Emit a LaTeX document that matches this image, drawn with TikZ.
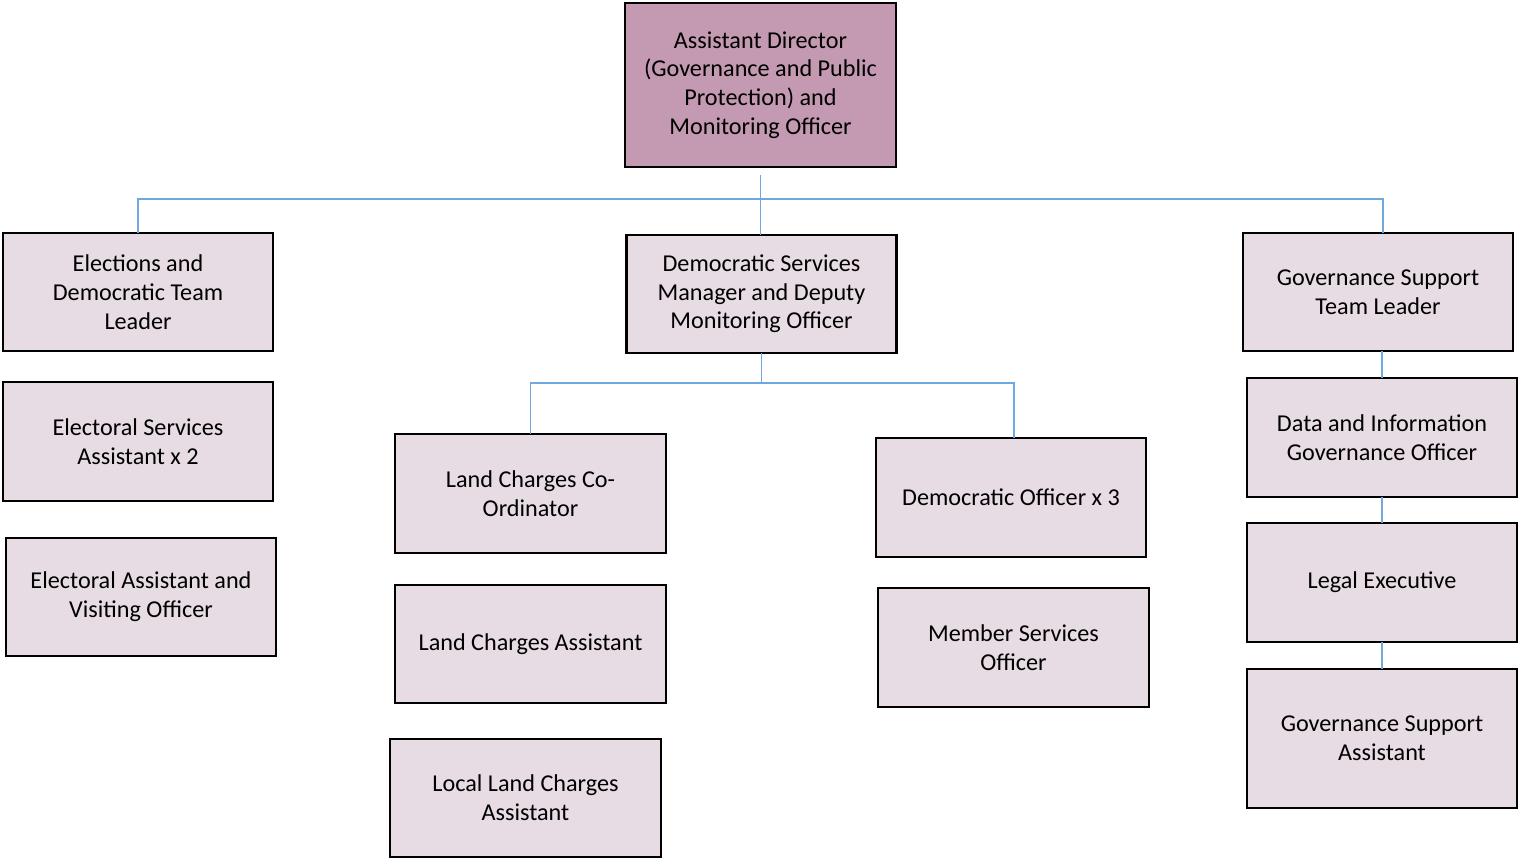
\documentclass[tikz,border=0pt]{standalone}
\usepackage{fontspec}
\setmainfont{Carlito}
\definecolor{topfill}{HTML}{C49AB2}
\definecolor{boxfill}{HTML}{E7DBE4}
\definecolor{conncol}{HTML}{6FA8DC}
\tikzset{
  box/.style={draw=black, line width=2.9pt, fill=boxfill, inner sep=0pt, outer sep=0pt,
    minimum width=270pt, minimum height=118pt, align=center,
    font=\fontsize{24.2}{28.7}\selectfont},
  topbox/.style={box, fill=topfill, minimum width=271pt, minimum height=164pt},
  conn/.style={draw=conncol, line width=1.5pt}
}
\begin{document}
\begin{tikzpicture}[x=1pt,y=-1pt]
\useasboundingbox (0,0) rectangle (1519,859);
\node[topbox] (top) at (760.5,85) {Assistant Director\\(Governance and Public\\Protection) and\\Monitoring Officer};
\node[box] (elec) at (138,292) {Elections and\\Democratic Team\\Leader};
\node[box, minimum height=119pt] (esa) at (138,441.5) {Electoral Services\\Assistant x 2};
\node[box] (eavo) at (141,597) {Electoral Assistant and\\Visiting Officer};
\node[box] (dsm) at (761.5,294) {Democratic Services\\Manager and Deputy\\Monitoring Officer};
\node[box, minimum width=271pt, minimum height=119pt] (lcc) at (530.5,493.5) {Land Charges Co-\\Ordinator};
\node[box, minimum width=271pt] (lca) at (530.5,644) {Land Charges Assistant};
\node[box, minimum width=271pt] (llca) at (525.5,798) {Local Land Charges\\Assistant};
\node[box, minimum height=119pt] (do3) at (1011,497.5) {Democratic Officer x 3};
\node[box, minimum width=271pt, minimum height=119pt] (mso) at (1013.5,647.5) {Member Services\\Officer};
\node[box] (gstl) at (1378,292) {Governance Support\\Team Leader};
\node[box, minimum height=119pt] (dig) at (1382,437.5) {Data and Information\\Governance Officer};
\node[box, minimum height=119pt] (le) at (1382,582.5) {Legal Executive};
\node[box, minimum height=139pt] (gsa) at (1382,738.5) {Governance Support\\Assistant};
% connectors
\coordinate (hub) at (761,199);
\coordinate (hubr) at (1383,199);
\coordinate (hub2) at (761.5,383);
\coordinate (hub2r) at (1014,383);
\draw[conn] ([yshift=-8pt]top.south) -- (top.south |- dsm.north);
\draw[conn] (elec.north) |- (hub);
\draw[conn] (hub) -- (hubr) -- (hubr |- gstl.north);
\draw[conn] (dsm.south) -- (hub2);
\draw[conn] (hub2) -| (lcc.north);
\draw[conn] (hub2) -- (hub2r) -- (hub2r |- do3.north);
\draw[conn] (gstl.south -| dig.north) -- (dig.north);
\draw[conn] (dig.south) -- (le.north);
\draw[conn] (le.south) -- (gsa.north);
\end{tikzpicture}
\end{document}
